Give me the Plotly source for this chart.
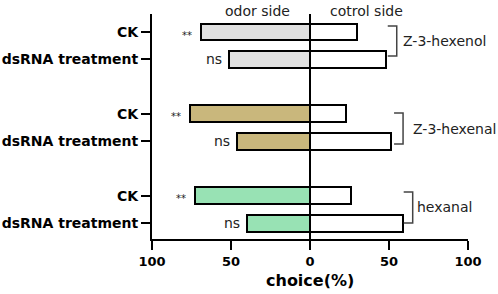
import plotly.graph_objects as go

# ---- data ----
rows = ["CK", "dsRNA treatment", "CK", "dsRNA treatment", "CK", "dsRNA treatment"]
row_pos = [0, 1, 3, 4, 6, 7]
odor_side = [69, 51, 76, 46, 73, 40]        # % choosing odor side (drawn to the left)
control_side = [30, 48, 23, 51, 26, 59]     # % choosing control side (drawn to the right)
signif = ["**", "ns", "**", "ns", "**", "ns"]
compounds = ["Z-3-hexenol", "Z-3-hexenal", "hexanal"]
x_ticks = [-100, -50, 0, 50, 100]
x_tick_text = ["100", "50", "0", "50", "100"]

# ---- styles ----
group_colors = ["#e0e0e0", "#c9b77c", "#98e2b4"]
left_colors = [group_colors[i // 2] for i in range(len(rows))]
FONT = "DejaVu Sans"

fig = go.Figure()
fig.add_trace(go.Bar(
    y=row_pos, x=[-v for v in odor_side], orientation="h", width=0.62,
    marker=dict(color=left_colors, line=dict(color="black", width=2)),
    showlegend=False, hoverinfo="skip"))
fig.add_trace(go.Bar(
    y=row_pos, x=control_side, orientation="h", width=0.62,
    marker=dict(color="white", line=dict(color="black", width=2)),
    showlegend=False, hoverinfo="skip"))

annotations = []
for y, v, s in zip(row_pos, odor_side, signif):
    if s == "**":
        annotations.append(dict(x=-v, y=y, xref="x", yref="y", text=s, showarrow=False,
                                xanchor="right", yanchor="middle", xshift=-7, yshift=-3,
                                font=dict(family=FONT, size=10, color="#222")))
    else:
        annotations.append(dict(x=-v, y=y, xref="x", yref="y", text=s, showarrow=False,
                                xanchor="right", yanchor="middle", xshift=-5,
                                font=dict(family=FONT, size=14, color="#222")))

annotations.append(dict(x=-33, y=1, xref="x", yref="paper", text="odor side", showarrow=False,
                        xanchor="center", yanchor="middle", yshift=3,
                        font=dict(family=FONT, size=14, color="#222")))
annotations.append(dict(x=35.5, y=1, xref="x", yref="paper", text="cotrol side", showarrow=False,
                        xanchor="center", yanchor="middle", yshift=3,
                        font=dict(family=FONT, size=14, color="#222")))
annotations.append(dict(x=0, y=0, xref="x", yref="paper", text="<b>choice(%)</b>", showarrow=False,
                        xanchor="center", yanchor="middle", yshift=-41,
                        font=dict(family=FONT, size=16, color="black")))

# brackets (x of vertical line, y top, y bottom, text x)
brackets = [(54.9, -0.22, 0.88, 57.5), (58.9, 2.97, 4.10, 63.8), (65.0, 5.86, 6.99, 66.2)]
shapes = []
for (bx, yt, yb, tx), name in zip(brackets, compounds):
    shapes.append(dict(type="path", xref="x", yref="y",
                       path=f"M {bx-5.7},{yt} L {bx},{yt} L {bx},{yb} L {bx-5.7},{yb}",
                       line=dict(color="#444", width=1.5)))
    annotations.append(dict(x=tx, y=(yt + yb) / 2, xref="x", yref="y", text=name, showarrow=False,
                            xanchor="left", yanchor="middle",
                            font=dict(family=FONT, size=14, color="#222")))

fig.update_layout(
    width=498, height=294, margin=dict(l=152, r=30, t=14, b=55),
    paper_bgcolor="white", plot_bgcolor="white",
    barmode="overlay", bargap=0,
    annotations=annotations, shapes=shapes,
    xaxis=dict(range=[-100, 100], tickvals=x_ticks, ticktext=[f"<b>{t}</b>" for t in x_tick_text],
               showline=True, linecolor="black", linewidth=2, ticks="outside", ticklen=9,
               tickwidth=2, tickcolor="black", showgrid=False, automargin=False,
               zeroline=True, zerolinecolor="black", zerolinewidth=2,
               tickfont=dict(family=FONT, size=13, color="black")),
    yaxis=dict(range=[7.58, -0.66], tickvals=row_pos, ticktext=[f"<b>{r}</b>" for r in rows],
               showline=True, linecolor="black", linewidth=2, ticks="outside", ticklen=9,
               tickwidth=2, tickcolor="black", showgrid=False, zeroline=False, automargin=False,
               tickfont=dict(family=FONT, size=14, color="black")),
)

fig.write_html("out.html", config={"displayModeBar": False},
               post_script="document.body.style.margin='0';document.body.style.overflow='hidden';")
